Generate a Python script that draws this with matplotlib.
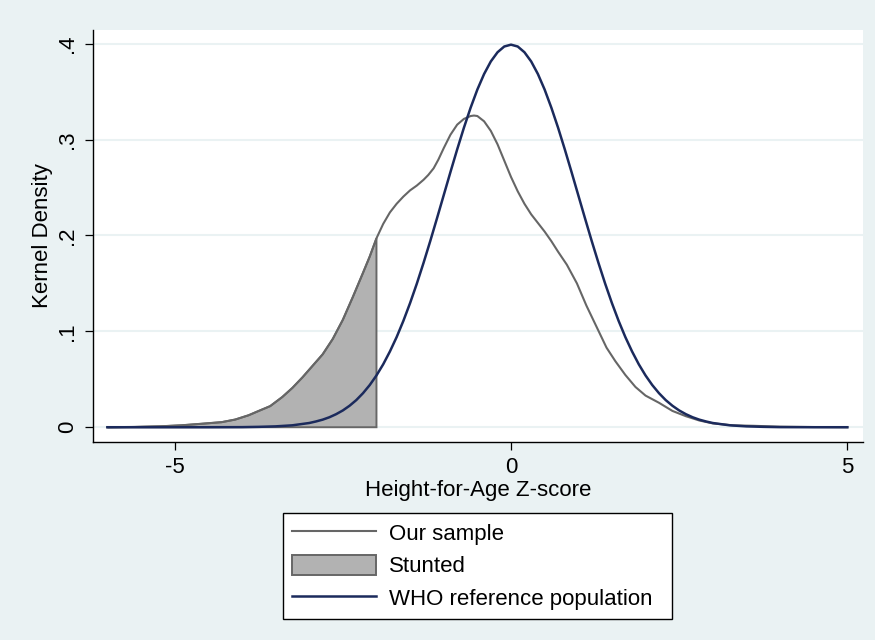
import matplotlib
matplotlib.use("Agg")
import matplotlib.pyplot as plt
from matplotlib.patches import Patch
from matplotlib.lines import Line2D

plt.rcParams['font.family'] = ['Liberation Sans', 'DejaVu Sans']

# Kernel density of our sample
sample_x = [-6.0, -5.6, -5.2, -4.9, -4.6, -4.3, -4.1, -3.9, -3.75, -3.58, -3.4, -3.25,
            -3.1, -2.95, -2.8, -2.65, -2.5, -2.35, -2.2, -2.1, -2.0, -1.9, -1.8, -1.7,
            -1.6, -1.5, -1.4, -1.3, -1.23, -1.15, -1.08, -1.0, -0.9, -0.8, -0.7, -0.6,
            -0.55, -0.5, -0.4, -0.3, -0.2, -0.1, 0.0, 0.1, 0.2, 0.3, 0.4, 0.5, 0.6,
            0.7, 0.83, 0.98, 1.12, 1.27, 1.42, 1.55, 1.7, 1.85, 2.0, 2.2, 2.4, 2.6,
            2.8, 3.0, 3.3, 3.6, 4.0, 4.5, 5.0]
sample_y = [0.0, 0.0003, 0.001, 0.002, 0.0036, 0.0053, 0.008, 0.0125, 0.017, 0.022,
            0.0315, 0.041, 0.052, 0.064, 0.076, 0.092, 0.112, 0.136, 0.161, 0.178,
            0.197, 0.212, 0.224, 0.233, 0.2405, 0.247, 0.252, 0.258, 0.263, 0.270,
            0.279, 0.291, 0.305, 0.3155, 0.3215, 0.3245, 0.3250, 0.3245, 0.319, 0.309,
            0.295, 0.278, 0.261, 0.246, 0.233, 0.222, 0.213, 0.204, 0.194, 0.183,
            0.1695, 0.150, 0.127, 0.105, 0.083, 0.069, 0.0545, 0.042, 0.033, 0.0255,
            0.017, 0.0115, 0.007, 0.004, 0.002, 0.0015, 0.0006, 0.0002, 0.0]

# WHO reference population density
who_x = [-6.0, -5.5, -5.0, -4.5, -4.0, -3.75, -3.5, -3.25,
         -3.0, -2.9, -2.8, -2.7, -2.6, -2.5, -2.4, -2.3, -2.2, -2.1,
         -2.0, -1.9, -1.8, -1.7, -1.6, -1.5, -1.4, -1.3, -1.2, -1.1,
         -1.0, -0.9, -0.8, -0.7, -0.6, -0.5, -0.4, -0.3, -0.2, -0.1,
         0.0, 0.1, 0.2, 0.3, 0.4, 0.5, 0.6, 0.7, 0.8, 0.9,
         1.0, 1.1, 1.2, 1.3, 1.4, 1.5, 1.6, 1.7, 1.8, 1.9,
         2.0, 2.1, 2.2, 2.3, 2.4, 2.5, 2.6, 2.7, 2.8, 2.9,
         3.0, 3.25, 3.5, 3.75, 4.0, 4.5, 5.0]
who_y = [0.0, 0.0, 0.0, 0.0, 0.0001, 0.0004, 0.0009, 0.0020,
         0.0044, 0.0060, 0.0079, 0.0104, 0.0136, 0.0175, 0.0224, 0.0283, 0.0355, 0.0440,
         0.0540, 0.0656, 0.0790, 0.0940, 0.1109, 0.1295, 0.1497, 0.1714, 0.1942, 0.2179,
         0.2420, 0.2661, 0.2897, 0.3123, 0.3332, 0.3521, 0.3683, 0.3814, 0.3910, 0.3970,
         0.3989, 0.3970, 0.3910, 0.3814, 0.3683, 0.3521, 0.3332, 0.3123, 0.2897, 0.2661,
         0.2420, 0.2179, 0.1942, 0.1714, 0.1497, 0.1295, 0.1109, 0.0940, 0.0790, 0.0656,
         0.0540, 0.0440, 0.0355, 0.0283, 0.0224, 0.0175, 0.0136, 0.0104, 0.0079, 0.0060,
         0.0044, 0.0020, 0.0009, 0.0004, 0.0001, 0.0, 0.0]

stunt_cut = -2.0
x_ticks = [-5, 0, 5]
y_ticks = [0, 0.1, 0.2, 0.3, 0.4]
y_tick_labels = ['0', '.1', '.2', '.3', '.4']
labels = ['Our sample', 'Stunted', 'WHO reference population']

BG = '#EAF2F3'
SAMPLE_C = '#666666'
WHO_C = '#1b2a5c'
FILL_C = '#b2b2b2'
FS = 16

fig = plt.figure(figsize=(8.75, 6.4), dpi=100, facecolor=BG)
ax = fig.add_axes([93/875, 1-442/640, 770/875, 412/640])
ax.set_facecolor('white')
ax.set_xlim(-6.214, 5.233)
ax.set_ylim(-0.0154, 0.4142)

ax.set_axisbelow(True)
ax.yaxis.grid(True, color=BG, lw=1.5)

# stunted area
fx = [x for x in sample_x if x <= stunt_cut]
fy = [y for x, y in zip(sample_x, sample_y) if x <= stunt_cut]
poly_x = fx + [fx[-1], fx[0]]
poly_y = fy + [0.0, 0.0]
ax.fill(poly_x, poly_y, facecolor=FILL_C, edgecolor=SAMPLE_C, lw=1.4, zorder=2)

ax.plot(sample_x, sample_y, color=SAMPLE_C, lw=1.5, zorder=3)
ax.plot(who_x, who_y, color=WHO_C, lw=1.8, zorder=4)

for s in ['top', 'right']:
    ax.spines[s].set_visible(False)
for s in ['left', 'bottom']:
    ax.spines[s].set_color('black')
    ax.spines[s].set_linewidth(1.0)

ax.set_xticks(x_ticks)
ax.set_xticklabels([str(v) for v in x_ticks])
ax.set_yticks(y_ticks)
ax.set_yticklabels(y_tick_labels, rotation=90, va='center')
ax.tick_params(direction='out', length=6, width=0.9, labelsize=FS, pad=4.5)

ax.set_xlabel('Height-for-Age Z-score', fontsize=FS, labelpad=1.5)
ax.set_ylabel('Kernel Density', fontsize=FS, labelpad=3.5)

handles = [Line2D([], [], color=SAMPLE_C, lw=1.5),
           Patch(facecolor=FILL_C, edgecolor=SAMPLE_C, lw=1.4),
           Line2D([], [], color=WHO_C, lw=1.8)]
leg = fig.legend(handles, labels, loc='upper left',
                 bbox_to_anchor=(283/875, 1-617/640, 389/875, 104/640),
                 mode='expand', borderaxespad=0, fontsize=FS, frameon=True,
                 fancybox=False, edgecolor='black', framealpha=1,
                 handlelength=3.75, handleheight=1.05, handletextpad=0.6,
                 labelspacing=0.42, borderpad=0.42)
leg.get_frame().set_linewidth(1.0)
leg.get_frame().set_facecolor('white')

fig.savefig('out.png', dpi=100, facecolor=BG)
